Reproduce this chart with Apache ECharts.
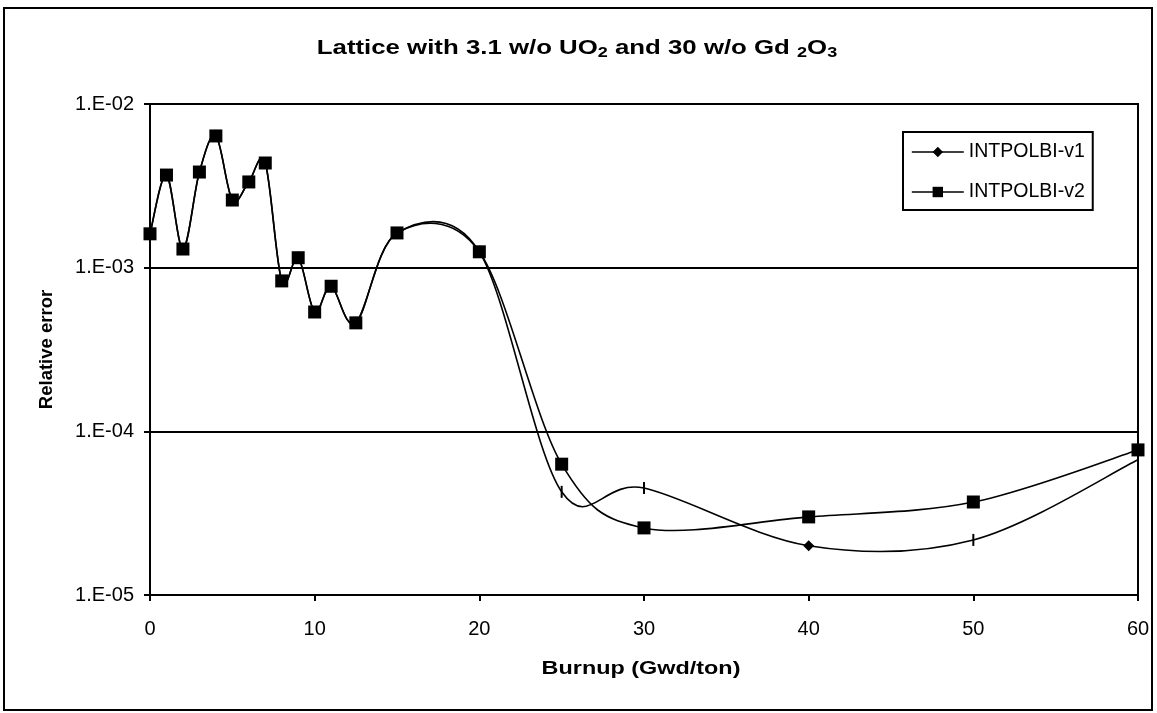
<!DOCTYPE html>
<html>
<head>
<meta charset="utf-8">
<script src="https://cdn.jsdelivr.net/npm/echarts@6/dist/echarts.min.js"></script>
<style>
  html, body { margin: 0; padding: 0; background: #fff; }
  #chart { width: 1157px; height: 713px; }
</style>
</head>
<body>
<div id="chart"></div>
<script>
// burnup points (Gwd/ton)
const burnup = [0, 1, 2, 3, 4, 5, 6, 7, 8, 9, 10, 11, 12.5, 15, 20, 25, 30, 40, 50, 60];
// relative error, INTPOLBI-v1
const v1 = [1.61e-3, 3.68e-3, 1.30e-3, 3.84e-3, 6.38e-3, 2.59e-3, 3.34e-3, 4.36e-3, 8.3e-4, 1.15e-3,
  5.36e-4, 7.7e-4, 4.6e-4, 1.63e-3, 1.25e-3, 4.27e-5, 4.5e-5, 2.0e-5, 2.17e-5, 6.7e-5];
// relative error, INTPOLBI-v2
const v2 = [1.61e-3, 3.68e-3, 1.30e-3, 3.84e-3, 6.38e-3, 2.59e-3, 3.34e-3, 4.36e-3, 8.3e-4, 1.15e-3,
  5.36e-4, 7.7e-4, 4.6e-4, 1.63e-3, 1.25e-3, 6.3e-5, 2.57e-5, 3.0e-5, 3.7e-5, 7.7e-5];
const yTickLabels = ['1.E-05', '1.E-04', '1.E-03', '1.E-02'];

const font = 'Liberation Sans, Arial, sans-serif';
const chart = echarts.init(document.getElementById('chart'));

// excel-like smoothed line: catmull-rom segments in pixel space
function curve(ys) {
  const n = burnup.length;
  return {
    type: 'custom',
    z: 2,
    silent: true,
    data: burnup.map(function (x, i) { return [x, ys[i]]; }),
    encode: { x: 0, y: 1 },
    renderItem: function (params, api) {
      const i = params.dataIndex;
      if (i >= n - 1) return;
      const pt = function (k) {
        k = Math.max(0, Math.min(n - 1, k));
        return api.coord([burnup[k], ys[k]]);
      };
      const p0 = pt(i - 1), p1 = pt(i), p2 = pt(i + 1), p3 = pt(i + 2);
      return {
        type: 'bezierCurve',
        shape: {
          x1: p1[0], y1: p1[1], x2: p2[0], y2: p2[1],
          cpx1: p1[0] + (p2[0] - p0[0]) / 6, cpy1: p1[1] + (p2[1] - p0[1]) / 6,
          cpx2: p2[0] - (p3[0] - p1[0]) / 6, cpy2: p2[1] - (p3[1] - p1[1]) / 6
        },
        style: { stroke: '#000', lineWidth: 1.6, fill: 'none' }
      };
    }
  };
}

chart.setOption({
  animation: false,
  backgroundColor: '#fff',
  graphic: [
    {
      type: 'rect',
      shape: { x: 4, y: 8, width: 1148, height: 702 },
      style: { fill: 'none', stroke: '#000', lineWidth: 2 }
    },
    {
      type: 'text',
      x: 577, y: 48, scaleX: 1.29,
      style: {
        text: '{b|Lattice with 3.1 w/o UO}{s|2}{b| and 30 w/o Gd }{s|2}{b|O}{s|3}',
        align: 'center', verticalAlign: 'middle',
        rich: {
          b: { fontFamily: font, fontWeight: 'bold', fontSize: 20, fill: '#000', lineHeight: 26 },
          s: { fontFamily: font, fontWeight: 'bold', fontSize: 14, fill: '#000', lineHeight: 26, padding: [10, 0, 0, 0] }
        }
      }
    },
    {
      type: 'text',
      x: 641, y: 669, scaleX: 1.3,
      style: {
        text: 'Burnup (Gwd/ton)',
        align: 'center', verticalAlign: 'middle',
        fontFamily: font, fontWeight: 'bold', fontSize: 18, fill: '#000'
      }
    }
  ],
  legend: {
    orient: 'vertical',
    left: 903,
    top: 132,
    padding: [10, 8, 8, 8],
    itemGap: 20,
    itemWidth: 52,
    itemHeight: 13,
    borderColor: '#000',
    borderWidth: 2,
    lineStyle: { width: 1.6, color: '#000' },
    textStyle: { fontFamily: font, fontSize: 19.5, color: '#000' },
    data: ['INTPOLBI-v1', 'INTPOLBI-v2']
  },
  grid: {
    left: 150, right: 19, top: 104, bottom: 118,
    show: true, borderColor: '#000', borderWidth: 2, backgroundColor: 'transparent'
  },
  xAxis: {
    type: 'value',
    min: 0, max: 60, interval: 10,
    axisLine: { lineStyle: { color: '#000', width: 2 } },
    axisTick: { length: 6, lineStyle: { color: '#000', width: 2 } },
    axisLabel: { fontFamily: font, fontSize: 20, color: '#000', margin: 24 },
    splitLine: { show: false }
  },
  yAxis: {
    type: 'log',
    logBase: 10,
    min: 1e-5, max: 1e-2,
    name: 'Relative error',
    nameLocation: 'middle',
    nameGap: 94,
    nameTextStyle: { fontFamily: font, fontWeight: 'bold', fontSize: 18.5, color: '#000' },
    axisLine: { lineStyle: { color: '#000', width: 2 } },
    axisTick: { length: 6, lineStyle: { color: '#000', width: 2 } },
    axisLabel: {
      fontFamily: font, fontSize: 20, color: '#000', margin: 16,
      formatter: function (v) {
        return yTickLabels[Math.round(Math.log10(v)) + 5];
      }
    },
    splitLine: { show: true, lineStyle: { color: '#000', width: 2 } }
  },
  series: [
    curve(v1),
    curve(v2),
    {
      name: 'INTPOLBI-v1',
      type: 'line',
      symbol: 'diamond',
      symbolSize: 11,
      color: '#000',
      lineStyle: { color: '#000', width: 0 },
      itemStyle: { color: '#000' },
      data: burnup.map(function (x, i) {
        if (x === 40) return [x, v1[i]];
        return { value: [x, v1[i]], symbol: 'rect', symbolSize: [2, 12] };
      }),
      z: 3
    },
    {
      name: 'INTPOLBI-v2',
      type: 'line',
      symbol: 'rect',
      symbolSize: 13,
      color: '#000',
      lineStyle: { color: '#000', width: 0 },
      itemStyle: { color: '#000' },
      data: burnup.map(function (x, i) { return [x, v2[i]]; }),
      z: 4
    }
  ]
});
</script>
</body>
</html>
